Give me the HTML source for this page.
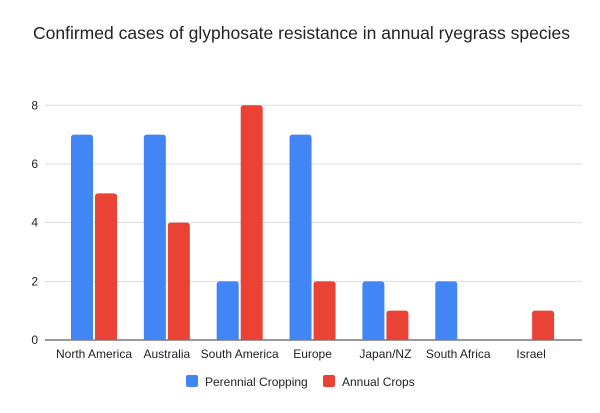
<!DOCTYPE html>
<html><head><meta charset="utf-8"><style>
body{margin:0;background:#fff;font-family:"Liberation Sans",sans-serif}
</style></head><body>
<svg id="c" width="600" height="408" xmlns="http://www.w3.org/2000/svg">
<rect width="600" height="408" fill="#fff"/>
<text x="33" y="39" font-size="17.5" fill="#222">Confirmed cases of glyphosate resistance in annual ryegrass species</text>
<g id="grid"></g><g id="bars"></g><g id="xl"></g>
<g>
<rect x="186" y="375" width="12" height="12" rx="2" fill="#4285f4"/>
<text x="205" y="386" font-size="12" fill="#222">Perennial Cropping</text>
<rect x="323" y="375" width="12" height="12" rx="2" fill="#ea4335"/>
<text x="342" y="386" font-size="12" fill="#222">Annual Crops</text>
</g>
</svg>
<script>
const categories=["North America","Australia","South America","Europe","Japan/NZ","South Africa","Israel"];
const perennial=[7,7,2,7,2,2,0];
const annual=[5,4,8,2,1,0,1];
const yTicks=[0,2,4,6,8];
const NS="http://www.w3.org/2000/svg";
const y0=340,yTop=105.3,yMax=8;
const y=v=>y0-(v/yMax)*(y0-yTop);
const cx=i=>94+i*72.85;
function mk(t,a,p){const e=document.createElementNS(NS,t);for(const k in a)e.setAttribute(k,a[k]);document.getElementById(p).appendChild(e);return e;}
yTicks.forEach(v=>{
 const l=mk("line",{x1:45,x2:582,y1:y(v),y2:y(v),stroke:v===0?"#333":"#ddd","stroke-width":1},"grid");
 
 
 const t=mk("text",{x:38,y:y(v)+4,"font-size":12,fill:"#222","text-anchor":"end"},"grid");
 t.textContent=v;
 
 
});
function bar(x,v,c){
 if(v<=0)return null;
 const h=y0-y(v),r=3;
 const d=`M${x},${y0}V${y(v)+r}Q${x},${y(v)} ${x+r},${y(v)}H${x+22-r}Q${x+22},${y(v)} ${x+22},${y(v)+r}V${y0}Z`;
 return mk("path",{d:d,fill:c},"bars");
}
categories.forEach((c,i)=>{
 const b1=bar(cx(i)-23,perennial[i],"#4285f4");
 if(b1){
 }
 const b2=bar(cx(i)+1,annual[i],"#ea4335");
 if(b2){
 }
 const t=mk("text",{x:cx(i),y:358,"font-size":12,fill:"#222","text-anchor":"middle"},"xl");
 t.textContent=c;
 
 
});
</script>
</body></html>
